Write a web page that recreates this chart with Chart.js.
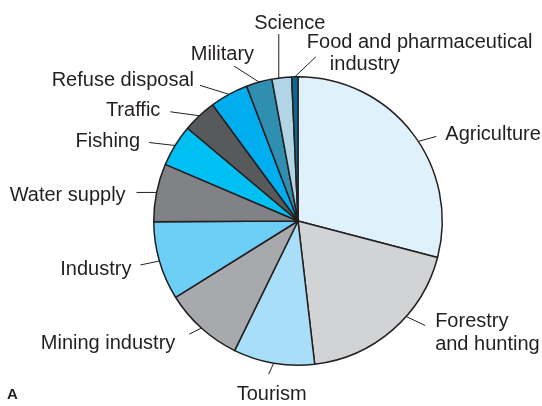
<!DOCTYPE html>
<html>
<head>
<meta charset="utf-8">
<script src="https://cdn.jsdelivr.net/npm/chart.js@4/dist/chart.umd.min.js"></script>
<style>
  html, body { margin: 0; padding: 0; background: #fff; }
  #wrap { width: 542px; height: 406px; position: relative; }
</style>
</head>
<body>
<div id="wrap"><canvas id="pieChart" width="542" height="406"></canvas></div>
<script>
// Shares of the sectors (percent)
const sectors = ['Agriculture', 'Forestry and hunting', 'Tourism', 'Mining industry', 'Industry',
    'Water supply', 'Fishing', 'Traffic', 'Refuse disposal', 'Military', 'Science',
    'Food and pharmaceutical industry'];
const shares = [29.1, 19.1, 9.1, 8.9, 8.8, 6.5, 4.7, 3.8, 4.3, 2.9, 2.2, 0.7];
const sliceColors = ['#dff1fb', '#d1d3d4', '#a8def7', '#a7a9ac', '#6dcff6', '#808285',
    '#00bff3', '#58595b', '#00aeef', '#2e8fb0', '#b2d5e6', '#0d6794'];

// Label text lines and leader layout (at = where on the slice the leader starts,
// l = leader vector, t = text offsets from leader end, one per line)
const labelLayout = [
    { lines: ['Agriculture'], at: 0.54, l: [18, -5], t: [[9, 4]], align: 'left' },
    { lines: ['Forestry', 'and hunting'], at: 0.39, l: [19, 9], t: [[10, 2], [10, 25]], align: 'left' },
    { lines: ['Tourism'], at: 0.5, l: [-5, 11], t: [[3, 26]], align: 'center' },
    { lines: ['Mining industry'], at: 0.5, l: [-12, 6], t: [[-14, 15]], align: 'right' },
    { lines: ['Industry'], at: 0.5, l: [-19, 4], t: [[-9, 10]], align: 'right' },
    { lines: ['Water supply'], at: 0.5, l: [-20, 0], t: [[-11, 9]], align: 'right' },
    { lines: ['Fishing'], at: 0.5, l: [-26, -3], t: [[-9, 4]], align: 'right' },
    { lines: ['Traffic'], at: 0.5, l: [-29, -4], t: [[-10, 4]], align: 'right' },
    { lines: ['Refuse disposal'], at: 0.5, l: [-29, -9], t: [[-6, 1]], align: 'right' },
    { lines: ['Military'], at: 0.5, l: [-25, -16], t: [[20, -6]], align: 'right' },
    { lines: ['Science'], at: 0.35, l: [0, -44], t: [[11, -5]], align: 'center' },
    { lines: ['Food and pharmaceutical', 'industry'], at: 0.5, l: [21, -20], t: [[-9, -9], [14, 13]], align: 'left' }
];

const ink = '#231f20';
const labelFont = '20px "Liberation Sans", Arial, sans-serif';

// Draws leader lines and labels from the arc geometry
const leaderLabels = {
    id: 'leaderLabels',
    afterDraw(chart) {
        const ctx = chart.ctx;
        const arcs = chart.getDatasetMeta(0).data;
        ctx.save();
        ctx.strokeStyle = ink;
        ctx.fillStyle = ink;
        ctx.lineWidth = 1;
        ctx.font = labelFont;
        ctx.textBaseline = 'alphabetic';
        arcs.forEach((arc, i) => {
            const cfg = labelLayout[i];
            const a = arc.startAngle + (arc.endAngle - arc.startAngle) * cfg.at;
            const px = arc.x + Math.cos(a) * arc.outerRadius;
            const py = arc.y + Math.sin(a) * arc.outerRadius;
            const ex = px + cfg.l[0];
            const ey = py + cfg.l[1];
            ctx.beginPath();
            ctx.moveTo(px, py);
            ctx.lineTo(ex, ey);
            ctx.stroke();
            ctx.textAlign = cfg.align;
            cfg.lines.forEach((line, j) => {
                ctx.fillText(line, ex + cfg.t[j][0], ey + cfg.t[j][1]);
            });
        });
        // panel letter
        ctx.font = 'bold 15px "Liberation Sans", Arial, sans-serif';
        ctx.textAlign = 'left';
        ctx.fillText('A', 7, 399);
        ctx.restore();
    }
};

document.addEventListener('DOMContentLoaded', () => {
    const ctx = document.getElementById('pieChart').getContext('2d');
    new Chart(ctx, {
        type: 'pie',
        data: {
            labels: sectors,
            datasets: [{
                data: shares,
                backgroundColor: sliceColors,
                borderColor: ink,
                borderWidth: 1.5,
                hoverBorderWidth: 1.5
            }]
        },
        options: {
            responsive: false,
            animation: false,
            layout: { padding: { left: 153, top: 76, right: 99, bottom: 40 } },
            plugins: {
                legend: { display: false },
                tooltip: { enabled: false }
            }
        },
        plugins: [leaderLabels]
    });
});
</script>
</body>
</html>
